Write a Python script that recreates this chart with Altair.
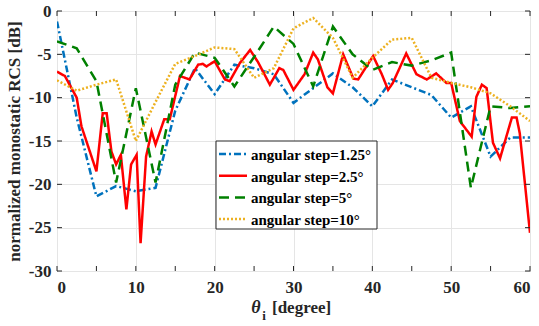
import altair as alt
import pandas as pd

# incidence angle (deg) and normalized monostatic RCS (dB) for each sampling step
step125_x = [0, 2.5, 5, 7.5, 10, 12.5, 15, 17.5, 20, 22.5, 25, 27.5, 30, 32.5, 35,
             37.5, 40, 42.5, 45, 47.5, 50, 52.5, 55, 57.5, 60]
step125_y = [-1.2, -12.3, -21.4, -20.2, -20.8, -20.4, -11.5, -6.6, -9.6, -6.2, -6.6,
             -7.3, -10.6, -8.9, -7.2, -8.8, -11.0, -7.9, -8.8, -9.7, -12.3, -11.0,
             -16.8, -14.6, -14.6]

step25_x = [0, 1, 1.6, 2.5, 3.1, 5, 5.8, 6.3, 6.9, 7.5, 8.1, 8.8, 9.4, 10.1, 10.6,
            11.3, 12, 12.5, 13.6, 14.3, 15.6, 16.8, 17.9, 18.5, 18.95, 20, 21.3, 21.9,
            23.2, 24.5, 25.5, 27, 28.2, 28.7, 30, 31.4, 32.5, 33.1, 34.3, 35, 36.3,
            37.6, 38.2, 40.1, 41.2, 42, 42.6, 44.3, 45.6, 46.9, 48.1, 49.4, 50, 51.1,
            52.6, 53.2, 53.9, 54.5, 55.3, 56.2, 57.7, 58.3, 58.7, 60]
step25_y = [-7.0, -7.5, -8.5, -10.0, -13.3, -18.5, -11.8, -11.8, -16.2, -17.7, -16.6,
            -22.9, -17.7, -16.6, -26.8, -16.8, -13.9, -15.4, -12.5, -12.5, -7.5, -7.9,
            -6.2, -6.1, -6.4, -5.8, -7.9, -8.1, -6.0, -4.5, -5.9, -8.5, -6.6, -6.8,
            -9.1, -7.3, -4.8, -5.6, -8.8, -9.5, -5.0, -7.8, -7.9, -5.2, -7.3, -9.1,
            -8.3, -4.9, -7.3, -7.9, -7.2, -8.3, -8.3, -12.7, -14.5, -9.9, -8.5, -8.9,
            -15.2, -17.0, -12.3, -12.3, -14.1, -25.6]

step5_x = [0, 2.5, 5, 7.5, 10, 12.5, 15, 17.5, 20, 22.5, 25, 27.5, 30, 32.5, 35,
           37.5, 40, 42.5, 45, 47.5, 50, 52.5, 55, 57.5, 60]
step5_y = [-3.5, -4.3, -8.1, -19.8, -8.9, -19.8, -8.5, -4.8, -5.4, -8.7, -5.3, -1.8,
           -3.8, -8.7, -1.8, -5.0, -6.8, -5.9, -6.3, -5.7, -4.8, -20.4, -11.0, -11.2,
           -11.0]

step10_x = [0, 2.5, 5, 7.5, 10, 12.5, 15, 17.5, 20, 22.5, 25, 27.5, 30, 32.5, 35,
            37.5, 40, 42.5, 45, 47.5, 50, 52.5, 55, 57.5, 60]
step10_y = [-8.0, -9.2, -8.5, -7.9, -15.0, -10.5, -6.1, -5.2, -4.2, -4.4, -7.7, -6.6,
            -2.0, -0.8, -3.1, -7.7, -5.4, -3.3, -3.1, -7.7, -8.3, -8.8, -9.5, -11.0,
            -12.7]

series_names = ["angular step=1.25°", "angular step=2.5°",
                "angular step=5°", "angular step=10°"]
series_colors = ["#0072BD", "#FF0000", "#008000", "#EDB120"]
series_dashes = [[7, 3, 2, 3], [1, 0], [10, 6], [2, 2]]

x_ticks = list(range(0, 61, 5))
y_ticks = list(range(-30, 1, 5))

W, H = 473, 260
FONT = "Liberation Serif"

rows = []
for name, xs, ys in zip(series_names,
                        [step125_x, step25_x, step5_x, step10_x],
                        [step125_y, step25_y, step5_y, step10_y]):
    for i, (a, b) in enumerate(zip(xs, ys)):
        rows.append({"angle": a, "rcs": b, "series": name, "order": i})
df = pd.DataFrame(rows)

xscale = alt.Scale(domain=[0, 60], nice=False, zero=False)
yscale = alt.Scale(domain=[-30, 0], nice=False, zero=False)

lines = alt.Chart(df).mark_line(strokeWidth=2.5, clip=True).encode(
    x=alt.X("angle:Q", scale=xscale,
            axis=alt.Axis(values=x_ticks, title=None, grid=True, ticks=False,
                          domain=False, labelFont=FONT, labelFontSize=17,
                          labelFontWeight="bold", labelColor="#262626",
                          labelPadding=8, gridColor="#e5e5e5")),
    y=alt.Y("rcs:Q", scale=yscale,
            axis=alt.Axis(values=y_ticks, title="normalized monostatic RCS [dB]",
                          grid=True, ticks=False, domain=False,
                          labelFont=FONT, labelFontSize=17, labelFontWeight="bold",
                          labelColor="#262626", labelPadding=6,
                          labelExpr="datum.value < 0 ? '-' + abs(datum.value) : '' + datum.value",
                          titleFont=FONT, titleFontSize=17, titleFontWeight="bold",
                          titleColor="#262626", titlePadding=5,
                          gridColor="#e5e5e5")),
    color=alt.Color("series:N",
                    scale=alt.Scale(domain=series_names, range=series_colors),
                    legend=None),
    strokeDash=alt.StrokeDash("series:N",
                              scale=alt.Scale(domain=series_names, range=series_dashes),
                              legend=None),
    order="order:Q",
)

# inward tick marks on all four sides of the frame
xt = pd.DataFrame({"t": x_ticks})
yt = pd.DataFrame({"t": y_ticks})
tick_x_bottom = alt.Chart(xt).mark_rule(color="#262626", strokeWidth=1).encode(
    x=alt.X("t:Q", scale=xscale), y=alt.value(H), y2=alt.value(H - 5))
tick_x_top = alt.Chart(xt).mark_rule(color="#262626", strokeWidth=1).encode(
    x=alt.X("t:Q", scale=xscale), y=alt.value(0), y2=alt.value(5))
tick_y_left = alt.Chart(yt).mark_rule(color="#262626", strokeWidth=1).encode(
    y=alt.Y("t:Q", scale=yscale), x=alt.value(0), x2=alt.value(5))
tick_y_right = alt.Chart(yt).mark_rule(color="#262626", strokeWidth=1).encode(
    y=alt.Y("t:Q", scale=yscale), x=alt.value(W), x2=alt.value(W - 5))

# legend box with line samples and labels
LX0, LX1, LY0, LY1 = 159, 320, 130, 218
legend_box = alt.Chart().mark_rect(fill="#ffffff", stroke="#262626",
                                   strokeWidth=1).encode(
    x=alt.value(LX0), x2=alt.value(LX1), y=alt.value(LY0), y2=alt.value(LY1))
legend_parts = [legend_box]
for k, (name, col, dash) in enumerate(zip(series_names, series_colors, series_dashes)):
    ry = 143 + k * 21.7
    legend_parts.append(
        alt.Chart().mark_rule(color=col, strokeWidth=2.5, strokeDash=dash).encode(
            x=alt.value(162), x2=alt.value(190), y=alt.value(ry)))
    legend_parts.append(
        alt.Chart().mark_text(text=name, font=FONT, fontSize=15, fontWeight="bold",
                              color="#000000", align="left",
                              baseline="middle").encode(
            x=alt.value(194), y=alt.value(ry + 1)))

# x-axis title: italic theta with subscript i
t_theta = alt.Chart().mark_text(text="θ", font=FONT, fontSize=18, fontStyle="italic",
                                fontWeight="bold", color="#262626", align="center",
                                baseline="alphabetic").encode(
    x=alt.value(199), y=alt.value(302))
t_sub = alt.Chart().mark_text(text="i", font=FONT, fontSize=13, fontWeight="bold",
                              color="#262626", align="center",
                              baseline="alphabetic").encode(
    x=alt.value(207), y=alt.value(309))
t_deg = alt.Chart().mark_text(text="[degree]", font=FONT, fontSize=17,
                              fontWeight="bold", color="#262626", align="left",
                              baseline="alphabetic").encode(
    x=alt.value(215), y=alt.value(302))

chart = alt.layer(
    lines, tick_x_bottom, tick_x_top, tick_y_left, tick_y_right,
    *legend_parts, t_theta, t_sub, t_deg,
).properties(
    width=W, height=H,
    autosize=alt.AutoSizeParams(type="none"),
    padding={"left": 57, "top": 11, "right": 9, "bottom": 55},
    background="#ffffff",
).configure_view(
    stroke="#262626", strokeWidth=1,
)

chart.save("out.html", embed_options={"renderer": "svg", "actions": False})
